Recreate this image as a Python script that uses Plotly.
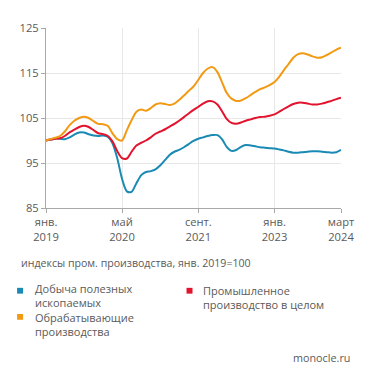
import pandas as pd
import plotly.graph_objects as go

# Monthly dates, Jan 2019 - Mar 2024
months = [d.strftime("%Y-%m-%d") for d in pd.date_range("2019-01-01", "2024-03-01", freq="MS")]

mining = [100.0, 100.2, 100.4, 100.4, 100.3, 100.7, 101.3, 101.8, 101.8, 101.4,
          101.1, 101.0, 101.1, 100.8, 99.4, 96.0, 91.5, 88.7, 88.6, 90.5,
          92.3, 93.0, 93.2, 93.6, 94.5, 95.7, 96.8, 97.5, 97.9, 98.5,
          99.2, 99.9, 100.4, 100.7, 101.0, 101.2, 101.2, 100.2, 98.6, 97.7,
          97.9, 98.6, 99.0, 98.9, 98.7, 98.5, 98.4, 98.3, 98.2, 98.0,
          97.8, 97.5, 97.3, 97.3, 97.4, 97.5, 97.6, 97.6, 97.5, 97.4,
          97.3, 97.4, 97.9]

manufacturing = [100.0, 100.3, 100.6, 101.0, 102.0, 103.4, 104.4, 105.0, 105.3, 105.0,
                 104.3, 103.7, 103.6, 103.2, 101.6, 100.3, 100.0, 102.3, 104.5, 106.4,
                 106.9, 106.6, 107.2, 108.0, 108.3, 108.1, 107.9, 108.2, 109.0, 110.0,
                 111.0, 112.0, 113.5, 115.0, 116.0, 116.3, 115.2, 112.8, 110.6, 109.3,
                 108.8, 108.9, 109.4, 110.1, 110.8, 111.4, 111.8, 112.3, 113.0, 114.2,
                 115.6, 117.0, 118.4, 119.2, 119.4, 119.1, 118.7, 118.4, 118.5, 119.0,
                 119.6, 120.2, 120.6]

industry = [100.0, 100.2, 100.4, 100.5, 101.0, 101.8, 102.4, 103.0, 103.3, 103.0,
            102.3, 101.6, 101.4, 101.0, 99.8, 97.6, 96.1, 96.0, 97.5, 98.9,
            99.5, 100.0, 100.7, 101.5, 102.0, 102.5, 103.1, 103.7, 104.4, 105.2,
            106.0, 106.8, 107.5, 108.2, 108.7, 108.7, 108.0, 106.4, 104.8, 103.9,
            103.7, 104.0, 104.4, 104.7, 105.0, 105.2, 105.3, 105.5, 105.8, 106.4,
            107.0, 107.6, 108.1, 108.4, 108.4, 108.2, 108.0, 108.0, 108.2, 108.5,
            108.8, 109.2, 109.5]

tick_dates = ["2019-01-01", "2020-05-01", "2021-09-01", "2023-01-01", "2024-03-01"]
tick_labels = ["янв.<br>2019", "май<br>2020", "сент.<br>2021", "янв.<br>2023", "март<br>2024"]

subtitle = "индексы пром. производства, янв. 2019=100"
name_mining = "Добыча полезных<br>ископаемых"
name_industry = "Промышленное<br>производство в целом"
name_manufacturing = "Обрабатывающие<br>производства"
source = "monocle.ru"
colors = {"mining": "#1a8ab4", "manufacturing": "#f29a13", "industry": "#e3132d"}

FONT = "Open Sans"
GRAY = "#5a5a5a"
TXT = 10.6
LEG = 11

# page body has an 8px margin; figure is sized so the page layout matches
W, H = 363, 376
PL, PT, PW, PH = 37, 14, 296, 186


def px(x):
    return (x - 8 - PL) / PW


def py(y):
    return 1 - (y - 8 - PT) / PH


fig = go.Figure()
for key, ys in [("mining", mining), ("industry", industry), ("manufacturing", manufacturing)]:
    fig.add_trace(go.Scatter(x=months, y=ys, mode="lines",
                             line=dict(color=colors[key], width=2, shape="spline", smoothing=0.8),
                             showlegend=False, hoverinfo="skip"))

fig.update_layout(
    width=W, height=H,
    margin=dict(l=PL, r=W - PL - PW, t=PT, b=H - PT - PH, pad=0),
    paper_bgcolor="white", plot_bgcolor="white",
    font=dict(family=FONT, color=GRAY, size=11),
    xaxis=dict(range=["2019-01-01", "2024-03-01"], tickvals=tick_dates, ticktext=tick_labels,
               showgrid=True, gridcolor="#e8e8e8", gridwidth=1,
               showline=True, linecolor="#a8a8a8", linewidth=1,
               ticks="outside", ticklen=4, tickcolor="#a8a8a8",
               tickfont=dict(size=11.2, color=GRAY), zeroline=False),
    yaxis=dict(range=[85, 125], tick0=85, dtick=10,
               showgrid=True, gridcolor="#e8e8e8", gridwidth=1,
               showline=True, linecolor="#a8a8a8", linewidth=1,
               ticks="outside", ticklen=4, tickcolor="#a8a8a8",
               tickfont=dict(size=11.2, color=GRAY), zeroline=False),
)

ann = []
ann.append(dict(x=px(18), y=py(265), xref="paper", yref="paper", text=subtitle,
                showarrow=False, xanchor="left", yanchor="middle",
                font=dict(size=TXT, color=GRAY)))
# legend: left column as one text block (two entries), right column one entry
ann.append(dict(x=px(32), y=py(313.5), xref="paper", yref="paper",
                text=name_mining + "<br>" + name_manufacturing, showarrow=False,
                align="left", xanchor="left", yanchor="middle",
                font=dict(size=LEG, color=GRAY)))
ann.append(dict(x=px(201), y=py(300), xref="paper", yref="paper",
                text=name_industry, showarrow=False,
                align="left", xanchor="left", yanchor="middle",
                font=dict(size=LEG, color=GRAY)))
shapes = []
for sx, sy, col in [(19, 293.5, colors["mining"]), (189, 293.5, colors["industry"]),
                    (19, 320.5, colors["manufacturing"])]:
    shapes.append(dict(type="rect", xref="paper", yref="paper",
                       x0=px(sx - 3), x1=px(sx + 3), y0=py(sy + 3), y1=py(sy - 3),
                       fillcolor=col, line=dict(width=0)))
ann.append(dict(x=px(352), y=py(362), xref="paper", yref="paper", text=source,
                showarrow=False, xanchor="right", yanchor="middle",
                font=dict(size=TXT + 0.2, color=GRAY)))
fig.update_layout(annotations=ann, shapes=shapes)

fig.write_html("out.html")
